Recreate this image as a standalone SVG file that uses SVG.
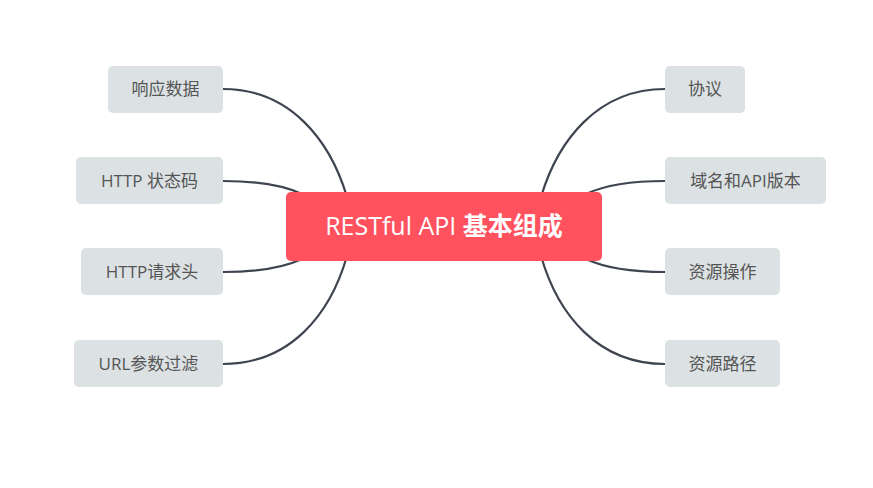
<svg xmlns="http://www.w3.org/2000/svg" width="873" height="488" viewBox="0 0 873 488">
<style>
.leaf rect{fill:#DCE2E4;}
.leaf text{font-family:"Open Sans","Noto Sans CJK SC",sans-serif;font-size:17px;fill:#555;text-anchor:middle;}
.conn path{fill:none;stroke:#3F4550;stroke-width:2.2;stroke-linecap:round;}
</style>
<rect width="873" height="488" fill="#fff"/>
<g id="connectors" class="conn">
<path d="M223,89 C290,89 330,140 347,197"/>
<path d="M223,181 C260,181 285,186 302,194"/>
<path d="M223,272 C260,272 285,267 302,259"/>
<path d="M223,364 C290,364 330,315 347,256"/>
<path d="M665,89 C598,89 558,140 541,197"/>
<path d="M665,181 C628,181 603,186 586,194"/>
<path d="M665,272 C628,272 603,267 586,259"/>
<path d="M665,364 C598,364 558,315 541,256"/>
</g>
<g id="root">
<rect x="286" y="192" width="316" height="69" rx="5" fill="#FF525E"/>
<text x="444" y="235" text-anchor="middle" font-family="Open Sans,'Noto Sans CJK SC',sans-serif" font-size="25" fill="#fff">RESTful API <tspan font-weight="bold">基本组成</tspan></text>
</g>
<g id="n1" class="leaf"><rect x="108" y="66" width="115" height="47" rx="5"/><text x="165.5" y="95">响应数据</text></g>
<g id="n2" class="leaf"><rect x="76" y="157" width="147" height="47" rx="5"/><text x="149.5" y="187">HTTP 状态码</text></g>
<g id="n3" class="leaf"><rect x="81" y="248" width="142" height="47" rx="5"/><text x="152" y="278">HTTP请求头</text></g>
<g id="n4" class="leaf"><rect x="74" y="340" width="149" height="47" rx="5"/><text x="148.5" y="370">URL参数过滤</text></g>
<g id="n5" class="leaf"><rect x="665" y="66" width="80" height="47" rx="5"/><text x="705" y="95">协议</text></g>
<g id="n6" class="leaf"><rect x="665" y="157" width="161" height="47" rx="5"/><text x="745.5" y="187">域名和API版本</text></g>
<g id="n7" class="leaf"><rect x="665" y="248" width="115" height="47" rx="5"/><text x="722.5" y="278">资源操作</text></g>
<g id="n8" class="leaf"><rect x="665" y="340" width="115" height="47" rx="5"/><text x="722.5" y="370">资源路径</text></g>
</svg>
